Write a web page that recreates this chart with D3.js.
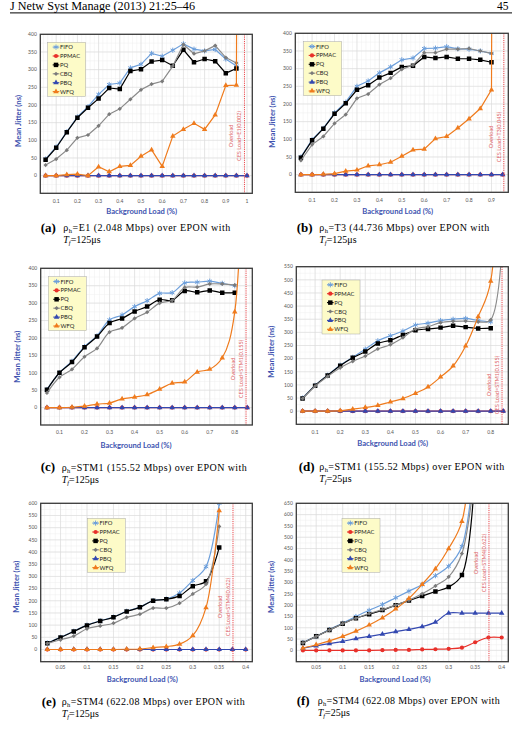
<!DOCTYPE html>
<html>
<head>
<meta charset="utf-8">
<script src="https://cdn.jsdelivr.net/npm/d3@7"></script>
<style>
  body { margin: 0; background: #fff; }
  svg { display: block; }
</style>
</head>
<body>
<svg id="page" width="512" height="734"></svg>
<script>
//*** donnees *******************************************************************/
const seriesNames = ["FIFO", "PPMAC", "PQ", "CBQ", "PBQ", "WFQ"];

// (a) E1, Tf=125us
const loadA = [0.05, 0.1, 0.15, 0.2, 0.25, 0.3, 0.35, 0.4, 0.45, 0.5, 0.55, 0.6, 0.65, 0.7, 0.75, 0.8, 0.85, 0.9, 0.95, 1];
const fifoA = [47, 81, 124, 166, 195, 230, 258, 262, 305, 315, 346, 338, 355, 373, 358, 353, 357, 330, 310];
const ppmacA = [0, 0, 0, 0, 0, 0, 0, 0, 0, 0, 0, 0, 0, 0, 0, 0, 0, 0, 0, 0];
const pqA = [45, 79, 123, 164, 192, 218, 248, 245, 296, 301, 323, 327, 311, 356, 321, 330, 324, 290, 303];
const cbqA = [30, 47, 72, 107, 115, 141, 174, 189, 216, 243, 259, 267, 310, 371, 345, 353, 368, 334, 319];
const pbqA = [0, 0, 0, 0, 0, 0, 0, 0, 0, 0, 0, 0, 0, 0, 0, 0, 0, 0, 0, 0];
const wfqA = [0, 0, 3, 4, 0, 25, 11, 26, 29, 55, 73, 26, 112, 131, 148, 131, 172, 255, 256, 10000];

// (b) T3, Tf=125us
const loadB = [0.05, 0.1, 0.15, 0.2, 0.25, 0.3, 0.35, 0.4, 0.45, 0.5, 0.55, 0.6, 0.65, 0.7, 0.75, 0.8, 0.85, 0.9, 0.95];
const fifoB = [50, 99, 131, 175, 205, 250, 265, 288, 305, 325, 330, 357, 358, 362, 356, 355, 350, 343];
const ppmacB = [0, 0, 0, 0, 0, 0, 0, 0, 0, 0, 0, 0, 0, 0, 0, 0, 0, 0, 0];
const pqB = [48, 97, 130, 172, 202, 240, 253, 275, 288, 305, 308, 333, 330, 333, 328, 328, 325, 318];
const cbqB = [40, 85, 108, 145, 170, 216, 228, 255, 273, 298, 310, 345, 345, 355, 355, 357, 350, 343];
const pbqB = [0, 0, 0, 0, 0, 0, 0, 0, 0, 0, 0, 0, 0, 0, 0, 0, 0, 0, 0];
const wfqB = [0, 0, 1, 3, 10, 13, 25, 28, 35, 52, 70, 72, 102, 108, 132, 158, 187, 240, 10000];

// (c) STM1, Tf=125us
const loadC = [0.05, 0.1, 0.15, 0.2, 0.25, 0.3, 0.35, 0.4, 0.45, 0.5, 0.55, 0.6, 0.65, 0.7, 0.75, 0.8, 0.85];
const fifoC = [52, 100, 133, 175, 206, 252, 266, 290, 307, 328, 330, 358, 360, 363, 357, 350];
const ppmacC = [0, 0, 0, 0, 0, 0, 0, 0, 0, 0, 0, 0, 0, 0, 0, 0, 0];
const pqC = [51, 100, 131, 173, 204, 243, 256, 276, 290, 310, 308, 335, 331, 336, 330, 330];
const cbqC = [42, 87, 110, 146, 170, 217, 229, 256, 274, 300, 308, 345, 346, 355, 355, 352];
const pbqC = [0, 0, 0, 0, 0, 0, 0, 0, 0, 0, 0, 0, 0, 0, 0, 0, 0];
const wfqC = [0, 0, 1, 4, 10, 13, 25, 30, 37, 53, 70, 74, 102, 110, 143, 275, 3000];

// (d) STM1, Tf=25us
const loadD = [0.05, 0.1, 0.15, 0.2, 0.25, 0.3, 0.35, 0.4, 0.45, 0.5, 0.55, 0.6, 0.65, 0.7, 0.75, 0.8, 0.85];
const fifoD = [50, 98, 137, 175, 205, 236, 268, 287, 305, 328, 335, 345, 350, 353, 345, 340];
const ppmacD = [0, 0, 0, 0, 0, 0, 0, 0, 0, 0, 0, 0, 0, 0, 0, 0, 0];
const pqD = [48, 97, 136, 173, 203, 227, 258, 270, 290, 308, 313, 318, 325, 320, 315, 316];
const cbqD = [48, 95, 132, 165, 190, 210, 237, 253, 280, 313, 322, 337, 342, 343, 340, 348, 3000];
const pbqD = [0, 0, 0, 0, 0, 0, 0, 0, 0, 0, 0, 0, 0, 0, 0, 0, 0];
const wfqD = [0, 0, 0, 2, 8, 14, 22, 35, 48, 68, 92, 130, 172, 248, 360, 495, 3000];

// (e) STM4, Tf=125us
const loadE = [0.025, 0.05, 0.075, 0.1, 0.125, 0.15, 0.175, 0.2, 0.225, 0.25, 0.275, 0.3, 0.325, 0.35, 0.375, 0.4];
const fifoE = [27, 50, 75, 100, 118, 133, 157, 174, 201, 207, 232, 283, 340, 600];
const ppmacE = [0, 0, 0, 0, 0, 0, 0, 0, 0, 0, 0, 0, 0, 0, 0, 0];
const pqE = [26, 49, 74, 99, 117, 132, 156, 173, 200, 206, 220, 260, 280, 419];
const cbqE = [25, 40, 55, 85, 97, 108, 132, 145, 170, 170, 190, 228, 268, 505];
const pbqE = [0, 0, 0, 0, 0, 0, 0, 0, 0, 0, 0, 0, 0, 0, 0, 0];
const wfqE = [0, 0, 0, 0, 0, 0, 1, 2, 8, 12, 22, 57, 172, 570];

// (f) STM4, Tf=25us
const loadF = [0.025, 0.05, 0.075, 0.1, 0.125, 0.15, 0.175, 0.2, 0.225, 0.25, 0.275, 0.3, 0.325, 0.35, 0.375, 0.4];
const fifoF = [35, 62, 92, 120, 150, 177, 203, 233, 262, 290, 330, 372, 460, 866];
const ppmacF = [0, 0, 0, 0, 0, 0, 1, 2, 2, 4, 5, 7, 12, 36, 57, 57];
const pqF = [33, 62, 90, 118, 142, 160, 178, 200, 220, 240, 260, 280, 333, 805];
const cbqF = [33, 62, 90, 118, 142, 163, 180, 200, 222, 250, 285, 325, 428, 800];
const pbqF = [10, 20, 30, 40, 52, 62, 72, 83, 93, 105, 125, 165, 165, 165, 165, 165];
const wfqF = [10, 25, 42, 62, 85, 112, 144, 183, 230, 292, 360, 450, 570, 1140];

// graduations
const xTicksA = [0.1, 0.2, 0.3, 0.4, 0.5, 0.6, 0.7, 0.8, 0.9, 1];
const xTicksB = [0.1, 0.2, 0.3, 0.4, 0.5, 0.6, 0.7, 0.8, 0.9];
const xTicksCD = [0.1, 0.2, 0.3, 0.4, 0.5, 0.6, 0.7, 0.8];
const xTicksEF = [0.05, 0.1, 0.15, 0.2, 0.25, 0.3, 0.35, 0.4];
const yTicks400 = [0, 50, 100, 150, 200, 250, 300, 350, 400];
const yTicks550 = [0, 50, 100, 150, 200, 250, 300, 350, 400, 450, 500, 550];
const yTicks600 = [0, 50, 100, 150, 200, 250, 300, 350, 400, 450, 500, 550, 600];
const yTicks650 = [0, 50, 100, 150, 200, 250, 300, 350, 400, 450, 500, 550, 600, 650];

// textes
const panelLetters = ["(a)", "(b)", "(c)", "(d)", "(e)", "(f)"];
const rates = ["E1 (2.048 Mbps)", "T3 (44.736 Mbps)", "STM1 (155.52 Mbps)", "STM1 (155.52 Mbps)", "STM4 (622.08 Mbps)", "STM4 (622.08 Mbps)"];
const frameTimes = ["125μs", "125μs", "125μs", "25μs", "125μs", "25μs"];
const overloadLoads = [0.988, 0.955, 0.845, 0.845, 0.376, 0.376];
const cesLabels = ["CES Load=E1(0.002)", "CES Load=T3(0.045)", "CES Load=STM1(0.155)", "CES Load=STM1(0.155)", "CES Load=STM4(0.622)", "CES Load=STM4(0.622)"];

//*** mise en page **************************************************************/
const colors = { FIFO: "#6d9fdb", PPMAC: "#e8302a", PQ: "#000000", CBQ: "#8a8a8a", PBQ: "#3348b0", WFQ: "#ef7b1d" };
const sansFont = "Lato, 'Liberation Sans', sans-serif";
const serifFont = "'Liberation Serif', 'Times New Roman', serif";
const axisBlue = "#4053b0";

const smooth = d3.curveCatmullRom.alpha(0.5);
const layout = [
  { load: loadA, series: [fifoA, ppmacA, pqA, cbqA, pbqA, wfqA], frame: [40.3, 34.3, 252.3, 193.3], xDom: [0.025, 1.025], xTicks: xTicksA, yTicks: yTicks400, curve: d3.curveLinear,
    legend: [47.7, 42.3], yTitle: [19, 121], xTitle: [141.7, 212], ovY: 136, cap: [40.7, 63.3, 231, 167] },
  { load: loadB, series: [fifoB, ppmacB, pqB, cbqB, pbqB, wfqB], frame: [295.3, 33.3, 508.3, 192.3], xDom: [0.025, 0.975], xTicks: xTicksB, yTicks: yTicks400, curve: d3.curveLinear,
    legend: [303.7, 41.7], yTitle: [272.7, 121.7], xTitle: [397.7, 212], ovY: 137, cap: [296.7, 319.3, 231, 170] },
  { load: loadC, series: [fifoC, ppmacC, pqC, cbqC, pbqC, wfqC], frame: [40.7, 268.3, 252.3, 425], xDom: [0.025, 0.87], xTicks: xTicksCD, yTicks: yTicks400, curve: smooth,
    legend: [48.3, 276.7], yTitle: [17.3, 356.7], xTitle: [136, 446], ovY: 369, cap: [40.7, 61.7, 470.5, 185] },
  { load: loadD, series: [fifoD, ppmacD, pqD, cbqD, pbqD, wfqD], frame: [296.3, 266.7, 508.3, 424.3], xDom: [0.025, 0.87], xTicks: xTicksCD, yTicks: yTicks550, curve: smooth,
    legend: [322, 280], yTitle: [272, 351.7], xTitle: [392.7, 444], ovY: 385, cap: [298.7, 319.3, 470, 185] },
  { load: loadE, series: [fifoE, ppmacE, pqE, cbqE, pbqE, wfqE], frame: [40.7, 503.3, 252.3, 661.7], xDom: [0.0125, 0.4125], xTicks: xTicksEF, yTicks: yTicks600, curve: smooth,
    legend: [87.3, 518.3], yTitle: [16.7, 586.7], xTitle: [142.3, 679.3], ovY: 607, cap: [41.7, 61.7, 705, 183] },
  { load: loadF, series: [fifoF, ppmacF, pqF, cbqF, pbqF, wfqF], frame: [296.3, 503.3, 508.3, 661.7], xDom: [0.0125, 0.4125], xTicks: xTicksEF, yTicks: yTicks650, curve: smooth,
    legend: [342, 518.3], yTitle: [271.7, 587], xTitle: [395, 679.3], ovY: 563, cap: [296.7, 317.7, 704, 182] }
];

const svg = d3.select("#page");

//*** en-tete de page ***********************************************************/
svg.append("text")
  .attr("x", 10).attr("y", 9.5)
  .attr("textLength", 185).attr("lengthAdjust", "spacingAndGlyphs")
  .style("font-family", serifFont).style("font-size", "11.5px")
  .text("J Netw Syst Manage (2013) 21:25–46");
svg.append("text")
  .attr("x", 497).attr("y", 9.5)
  .style("font-family", serifFont).style("font-size", "11.5px")
  .text("45");
svg.append("line")
  .attr("x1", 10).attr("x2", 512).attr("y1", 12.9).attr("y2", 12.9)
  .attr("stroke", "#000").attr("stroke-width", 1);

//*** marqueurs *****************************************************************/
function drawMarker(sel, name) {
  if (name === "FIFO") {
    sel.append("path")
      .attr("d", d3.symbol().type(d3.symbolAsterisk).size(18)())
      .attr("fill", "none").attr("stroke", colors.FIFO).attr("stroke-width", 1);
  } else if (name === "PPMAC") {
    sel.append("path").attr("d", d3.symbol().type(d3.symbolCircle).size(14)()).attr("fill", colors.PPMAC);
  } else if (name === "PQ") {
    sel.append("path").attr("d", d3.symbol().type(d3.symbolSquare).size(20)()).attr("fill", colors.PQ);
  } else if (name === "CBQ") {
    sel.append("path").attr("d", d3.symbol().type(d3.symbolSquare).size(9)())
      .attr("transform", "rotate(45)").attr("fill", "#7a7a7a");
  } else {
    sel.append("path").attr("d", d3.symbol().type(d3.symbolTriangle).size(13)()).attr("fill", colors[name]);
  }
}

//*** un graphique **************************************************************/
function drawPanel(p, k) {
  const [x0, y0, x1, y1] = p.frame;
  const x = d3.scaleLinear().domain(p.xDom).range([x0, x1]);
  const yMax = p.yTicks[p.yTicks.length - 1];
  const y = d3.scaleLinear().domain([-50, yMax]).range([y1, y0]);
  const g = svg.append("g");

  // grille secondaire puis principale
  const xStep = p.xTicks[1] - p.xTicks[0];
  const xMinor = d3.range(0, p.xDom[1], xStep / 5).filter(v => v > p.xDom[0]);
  const yMinor = d3.range(-25, yMax, 25);
  g.append("g").selectAll("line").data(xMinor).join("line")
    .attr("x1", d => x(d)).attr("x2", d => x(d)).attr("y1", y0).attr("y2", y1)
    .attr("stroke", "#eeeeee").attr("stroke-width", 0.5);
  g.append("g").selectAll("line").data(yMinor).join("line")
    .attr("x1", x0).attr("x2", x1).attr("y1", d => y(d)).attr("y2", d => y(d))
    .attr("stroke", "#eeeeee").attr("stroke-width", 0.5);
  g.append("g").selectAll("line").data(p.xTicks).join("line")
    .attr("x1", d => x(d)).attr("x2", d => x(d)).attr("y1", y0).attr("y2", y1)
    .attr("stroke", "#dadada").attr("stroke-width", 0.6);
  g.append("g").selectAll("line").data(p.yTicks).join("line")
    .attr("x1", x0).attr("x2", x1).attr("y1", d => y(d)).attr("y2", d => y(d))
    .attr("stroke", "#dadada").attr("stroke-width", 0.6);

  // graduations
  g.append("g").selectAll("text").data(p.yTicks).join("text")
    .attr("x", x0 - 3.5).attr("y", d => y(d)).attr("dy", "0.35em")
    .attr("text-anchor", "end")
    .style("font-family", sansFont).style("font-size", "5px").attr("fill", "#555")
    .text(d => d);
  g.append("g").selectAll("text").data(p.xTicks).join("text")
    .attr("x", d => x(d)).attr("y", y1 + (k < 4 ? 7.5 : 6)).attr("dy", "0.35em")
    .attr("text-anchor", "middle")
    .style("font-family", sansFont).style("font-size", "5px").attr("fill", "#555")
    .text(d => d);

  // titres des axes
  g.append("text")
    .attr("transform", `translate(${p.yTitle[0]},${p.yTitle[1]}) rotate(-90)`)
    .attr("text-anchor", "middle").attr("dy", "0.35em")
    .attr("textLength", 52).attr("lengthAdjust", "spacingAndGlyphs")
    .style("font-family", sansFont).style("font-size", "6.5px").style("font-weight", "bold")
    .attr("fill", axisBlue).text("Mean Jitter (ns)");
  g.append("text")
    .attr("x", p.xTitle[0]).attr("y", p.xTitle[1]).attr("dy", "0.35em")
    .attr("text-anchor", "middle")
    .attr("textLength", 71).attr("lengthAdjust", "spacingAndGlyphs")
    .style("font-family", sansFont).style("font-size", "6.5px").style("font-weight", "bold")
    .attr("fill", axisBlue).text("Background Load (%)");

  // courbes (coupées au cadre)
  const clipId = "clip" + k;
  svg.append("clipPath").attr("id", clipId)
    .append("rect").attr("x", x0).attr("y", y0).attr("width", x1 - x0).attr("height", y1 - y0);
  const plot = g.append("g").attr("clip-path", `url(#${clipId})`);
  const line = d3.line().x(d => x(d[0])).y(d => y(d[1])).curve(p.curve);

  seriesNames.forEach((name, i) => {
    const pts = p.series[i].map((v, j) => [p.load[j], v]);
    plot.append("path").datum(pts)
      .attr("d", line).attr("fill", "none")
      .attr("stroke", colors[name]).attr("stroke-width", 1.2);
    plot.append("g").selectAll("g").data(pts).join("g")
      .attr("transform", d => `translate(${x(d[0])},${y(d[1])})`)
      .each(function () { drawMarker(d3.select(this), name); });
  });

  // ligne de surcharge
  const ox = x(overloadLoads[k]);
  g.append("line")
    .attr("x1", ox).attr("x2", ox).attr("y1", y0).attr("y2", y1)
    .attr("stroke", "#e8474b").attr("stroke-width", 1).attr("stroke-dasharray", "1.2,1");
  g.append("text")
    .attr("transform", `translate(${ox - 13},${p.ovY}) rotate(-90)`)
    .attr("text-anchor", "middle").attr("dy", "0.35em")
    .style("font-family", sansFont).style("font-size", "5.6px").attr("fill", "#e0676a")
    .text("Overload");
  g.append("text")
    .attr("transform", `translate(${ox - 5},${p.ovY}) rotate(-90)`)
    .attr("text-anchor", "middle").attr("dy", "0.35em")
    .style("font-family", sansFont).style("font-size", "5.6px").attr("fill", "#e0676a")
    .text(cesLabels[k]);

  // cadre
  g.append("rect")
    .attr("x", x0).attr("y", y0).attr("width", x1 - x0).attr("height", y1 - y0)
    .attr("fill", "none").attr("stroke", "#3a3a3a").attr("stroke-width", 1.3);

  // legende
  const [lx, ly] = p.legend;
  const leg = g.append("g");
  leg.append("rect")
    .attr("x", lx).attr("y", ly).attr("width", 38).attr("height", 54)
    .attr("fill", "#fdfbc8").attr("stroke", "#a8a8a8").attr("stroke-width", 0.5);
  seriesNames.forEach((name, i) => {
    const cy = ly + 4.8 + i * 8.9;
    leg.append("line")
      .attr("x1", lx + 5).attr("x2", lx + 11.6).attr("y1", cy).attr("y2", cy)
      .attr("stroke", colors[name]).attr("stroke-width", 1.1);
    drawMarker(leg.append("g").attr("transform", `translate(${lx + 8.3},${cy})`), name);
    leg.append("text")
      .attr("x", lx + 12.3).attr("y", cy).attr("dy", "0.35em")
      .style("font-family", sansFont).style("font-size", "5.8px").attr("fill", "#222")
      .text(name);
  });

  // legende du graphique (sous-titre)
  const [labX, textX, base, width] = p.cap;
  svg.append("text")
    .attr("x", labX).attr("y", base + 0.5)
    .style("font-family", serifFont).style("font-size", "13px").style("font-weight", "bold")
    .text(panelLetters[k]);
  const cap = svg.append("text")
    .attr("x", textX).attr("y", base)
    .attr("textLength", width).attr("lengthAdjust", "spacing")
    .style("font-family", serifFont).style("font-size", "10px");
  cap.append("tspan").text("ρ");
  cap.append("tspan").attr("dy", 2).style("font-size", "6.5px").text("h");
  cap.append("tspan").attr("dy", -2).text("=" + rates[k] + " over EPON with");
  const cap2 = svg.append("text")
    .attr("x", textX).attr("y", base + 12.3)
    .style("font-family", serifFont).style("font-size", "10px");
  cap2.append("tspan").style("font-style", "italic").text("T");
  cap2.append("tspan").attr("dy", 2).style("font-style", "italic").style("font-size", "6.5px").text("f");
  cap2.append("tspan").attr("dy", -2).text("=" + frameTimes[k]);
}

layout.forEach((p, k) => drawPanel(p, k));
</script>
</body>
</html>
